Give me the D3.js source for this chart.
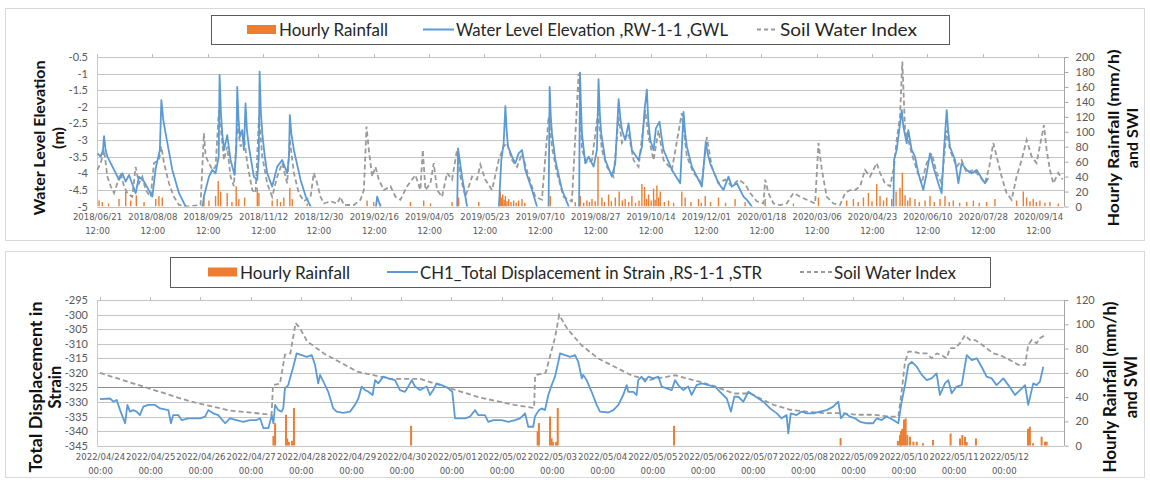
<!DOCTYPE html>
<html><head><meta charset="utf-8">
<script src="https://cdn.jsdelivr.net/npm/d3@7"></script>
<style>
body{margin:0;background:#fff}
text{font-family:Lato,"Open Sans",sans-serif}
</style>
</head><body>
<svg id="c" width="1150" height="480"></svg>
<script>
// ---------------- DATA: top chart (days since 2018/06/21 12:00) ----------------
const topStart = "2018/06/21 12:00";
const topTickLabels = ["2018/06/21","2018/08/08","2018/09/25","2018/11/12","2018/12/30","2019/02/16","2019/04/05","2019/05/23","2019/07/10","2019/08/27","2019/10/14","2019/12/01","2020/01/18","2020/03/06","2020/04/23","2020/06/10","2020/07/28","2020/09/14"];
const topTickTime = "12:00";
const topLeftTicks = [-5,-4.5,-4,-3.5,-3,-2.5,-2,-1.5,-1,-0.5];
const topRightTicks = [0,20,40,60,80,100,120,140,160,180,200];

const gwlSeries = [[0.5,-3.4],[3.2,-3.5],[5.2,-3.3],[6.1,-2.88],[7.5,-3.3],[9,-3.5],[14.8,-3.9],[19.1,-4.2],[22,-4.0],[24.9,-4.25],[27.8,-4.05],[33.5,-4.6],[36.4,-4.1],[40.8,-4.25],[48,-4.7],[50.9,-3.85],[54.5,-3.3],[55.8,-1.8],[57.5,-2.4],[59.5,-2.8],[65.3,-3.9],[71.1,-4.6],[76.9,-5.0],[78,-5.3],[90.5,-5.3],[92.7,-4.7],[97.1,-4.1],[100,-3.9],[102.8,-4.0],[105.5,-3.5],[106.3,-1.04],[107.5,-2.2],[108.6,-2.8],[110.1,-3.3],[112.9,-2.85],[115.8,-3.6],[119.3,-4.05],[120.8,-3.2],[121.6,-1.4],[122.8,-2.4],[123.9,-2.9],[125.9,-2.7],[127.4,-3.3],[128.8,-1.9],[130,-2.7],[131.7,-3.2],[136,-4.1],[138.9,-4.2],[140.3,-3.5],[141,-0.94],[142,-2.1],[143.3,-2.8],[145.5,-3.5],[147.6,-4.0],[151.9,-4.4],[156.3,-3.8],[160.6,-3.6],[164.9,-4.0],[166.5,-3.5],[167.2,-2.25],[168.5,-2.8],[170.7,-3.3],[176.5,-4.2],[181,-4.7],[185.2,-5.0],[186,-5.3],[241,-5.3],[242.9,-4.7],[245.8,-5.0],[246.5,-5.3],[312.2,-5.3],[313.1,-3.25],[316.5,-4.1],[320.9,-5.0],[321.5,-5.3],[348,-5.3],[350.6,-3.6],[352.6,-3.1],[354.1,-1.98],[355.2,-2.7],[356.4,-3.2],[359.9,-3.5],[362.7,-3.7],[365.6,-3.4],[368.5,-3.3],[371.4,-3.9],[377.2,-4.5],[381.5,-5.0],[382,-5.3],[391.5,-5.3],[392.5,-1.4],[393.5,-2.3],[394.5,-2.8],[397.4,-3.6],[403.2,-4.5],[409,-5.0],[409.5,-5.3],[418,-5.3],[418.8,-0.97],[419.7,-2.0],[420.5,-2.8],[423.4,-3.7],[426.3,-3.5],[430.6,-3.8],[433.5,-3.3],[434.9,-1.17],[436,-2.2],[437.2,-2.8],[440.7,-3.6],[446.5,-4.1],[449.4,-3.7],[452.3,-1.77],[453.7,-2.3],[455.2,-2.7],[458,-3.0],[460.9,-2.5],[463.8,-3.3],[469.6,-3.6],[472.5,-3.2],[474.8,-2.1],[476.8,-1.48],[478,-2.4],[479.7,-3.0],[482.6,-3.3],[484.6,-2.65],[487.8,-2.45],[489.5,-2.9],[491.3,-3.3],[498.5,-3.9],[505.7,-4.3],[508.6,-2.15],[510,-2.8],[511.5,-3.2],[515.8,-3.8],[524.5,-4.4],[527.9,-3.05],[529.5,-3.4],[531.7,-3.7],[538.9,-4.3],[543.2,-4.5],[547.6,-4.1],[550.5,-4.4],[554.8,-4.3],[560.6,-4.7],[563.5,-4.8],[567.8,-5.0],[568.5,-5.3],[690.5,-5.3],[691.1,-3.6],[693.4,-3.3],[694.9,-2.9],[697.8,-2.1],[699.2,-2.6],[702.1,-3.1],[703.5,-2.7],[706.4,-3.3],[709.3,-3.5],[712.2,-4.0],[716.5,-4.5],[719.4,-4.0],[722.3,-3.4],[725.2,-3.8],[729.5,-4.3],[732.4,-4.6],[734.4,-3.3],[736.8,-2.1],[738,-2.7],[739.6,-3.2],[744,-3.6],[746.9,-4.3],[749.7,-3.7],[754.1,-3.9],[758.4,-4.0],[762.8,-3.9],[767.1,-4.15],[770,-4.3],[772.9,-4.15]];

const swiTopSeries = [[0.3,49],[3.2,58],[6.1,76],[9,40],[11.9,27],[14.8,18],[17.6,31],[20.5,45],[23.4,27],[26.3,18],[30.6,13],[33.5,53],[36.4,31],[39.3,40],[42.2,22],[46.5,13],[49.4,58],[53.7,62],[55.8,80],[58.1,58],[62.4,31],[66.7,13],[71.1,2],[78.3,0],[89.8,2],[92.7,98],[94.2,67],[97.1,58],[100,49],[102.8,53],[105.7,129],[107.8,98],[110.1,62],[112.9,80],[115.8,40],[118.7,27],[121.6,111],[124.5,80],[127.4,93],[130.3,58],[134.6,22],[137.5,18],[140.4,120],[143.3,67],[147.6,31],[151.9,13],[156.3,40],[160.6,58],[164.9,31],[167.2,89],[170.7,45],[175,18],[179.4,7],[185.2,13],[188,45],[190.9,31],[193.8,13],[196.7,4],[202.5,7],[208.3,4],[211.1,13],[214,2],[222.7,2],[228.5,9],[231.4,22],[233.7,107],[235.7,76],[238.6,40],[241.5,53],[244.4,36],[248.7,22],[254.5,27],[258.8,13],[263.1,9],[268.9,27],[273.2,36],[276.1,42],[280.4,22],[282.5,76],[284.8,22],[289.1,31],[292,58],[294.9,22],[299.2,13],[303.5,45],[307.9,36],[312.2,76],[315.1,40],[319.4,13],[325.2,40],[329.5,36],[332.4,56],[336.7,36],[342.5,22],[348.3,62],[352.6,80],[355.5,85],[359.9,62],[364.2,53],[368.5,71],[374.3,40],[380.1,13],[385.8,9],[391.6,120],[394.5,80],[398.8,45],[404.6,13],[411.8,7],[417.6,178],[420.5,76],[424.8,58],[429.2,62],[434.4,125],[437.8,76],[442.2,53],[447.9,40],[452.3,120],[455.2,85],[460.9,98],[465.3,62],[469.6,53],[475.4,129],[478.3,93],[482.6,62],[486.9,102],[491.3,62],[498.5,49],[507.1,125],[511.5,67],[517.2,45],[524.5,31],[528.8,93],[533.1,53],[538.9,31],[544.7,36],[550.5,27],[556.2,36],[562,30],[566.4,18],[572.1,7],[577.9,4],[579.4,36],[582.2,18],[586.6,4],[592.4,2],[598.1,4],[603.9,18],[609.7,13],[615.5,9],[622.7,4],[625.6,85],[628.5,49],[632.8,13],[638.6,4],[644.3,2],[648.7,18],[653,22],[657.3,22],[661.7,27],[666,49],[670.3,40],[676.1,58],[679,45],[683.3,31],[687.7,27],[691.1,53],[693.4,89],[696.3,120],[698.3,194],[700.7,102],[703.5,89],[706.4,71],[710.8,49],[715.1,31],[719.4,58],[723.8,71],[728.1,45],[732.4,31],[736.8,102],[739.6,76],[745.4,53],[749.7,62],[754.1,45],[759.9,49],[765.6,40],[770,31],[773.7,53],[777.2,85],[780.1,67],[784.4,40],[788.7,18],[793.1,9],[797.4,40],[801.7,62],[806.1,89],[810.4,67],[814.7,58],[819.1,93],[821.1,109],[823.4,76],[826.3,49],[829.2,31],[833.5,45],[837.3,36]];

const rainTopSeries = [[1.8,8],[4.6,6],[10,4],[19.1,10],[24.9,20],[29.2,8],[34.1,15],[40.8,6],[50.9,10],[53.7,14],[56.6,12],[92.7,12],[97.1,8],[102.8,14],[105.1,34],[107.2,20],[112.9,18],[117,6],[120.7,27],[123,10],[128,12],[139,25],[140.4,18],[151.9,8],[156.3,10],[159.2,6],[162,12],[167.2,25],[169.3,10],[182.3,4],[234.2,8],[240,6],[245.8,4],[271.8,6],[283.3,8],[289.1,4],[307.9,6],[313.6,12],[331,6],[349.7,20],[350.8,12],[351.8,16],[353,9],[354.1,14],[355.5,7],[357,10],[359,6],[361.3,8],[363.5,5],[365.6,8],[368.5,10],[371,5],[393.1,14],[414.7,6],[419.1,14],[422,5],[424.8,8],[427,6],[429.2,10],[432,7],[434.4,67],[437.8,12],[440,6],[443.6,16],[446,7],[449.4,12],[452.8,20],[455.5,8],[458,10],[461,6],[463.8,14],[467,5],[470,8],[472.5,30],[474.8,26],[476.5,10],[478.3,16],[480.5,8],[482.6,24],[484,9],[485.5,28],[487,12],[488.4,20],[492,6],[495.6,8],[500,5],[507.1,20],[510,12],[515,6],[521.6,10],[524,5],[527.4,14],[532,6],[538.9,12],[545,5],[553.3,10],[562,6],[579.4,10],[603.9,4],[625.6,12],[650.1,8],[655.9,10],[660,6],[664.6,12],[668.9,18],[672,7],[676.1,30],[679,14],[682,8],[684.8,12],[689.1,10],[692.9,20],[696.3,25],[698.3,45],[700.7,15],[703,8],[705,12],[709.3,10],[713,6],[718,8],[722.3,14],[726,6],[731,10],[735.3,14],[739,6],[742.5,8],[748,5],[754.1,6],[759.9,8],[765,5],[771.4,6],[778.6,10],[797.4,8],[803.2,20],[806.1,12],[809,7],[811.8,10],[814.5,6],[817.6,8],[822,5],[826.3,6],[833.5,4]];

// ---------------- DATA: bottom chart (hours since 2022/04/24 00:00) ----------------
const botStart = "2022/04/24 00:00";
const botTickLabels = ["2022/04/24","2022/04/25","2022/04/26","2022/04/27","2022/04/28","2022/04/29","2022/04/30","2022/05/01","2022/05/02","2022/05/03","2022/05/04","2022/05/05","2022/05/06","2022/05/07","2022/05/08","2022/05/09","2022/05/10","2022/05/11","2022/05/12"];
const botTickTime = "00:00";
const botLeftTicks = [-345,-340,-335,-330,-325,-320,-315,-310,-305,-300,-295];
const botRightTicks = [0,20,40,60,80,100,120];

const strainSeries = [[0,-329],[4.8,-328.8],[6.4,-329.9],[8,-329.3],[9.6,-332.8],[12,-337.3],[13.1,-331],[14.3,-333.3],[15.9,-332.8],[17.5,-333.3],[19.1,-334.5],[20.7,-331.6],[23.1,-331],[26.3,-331],[28.7,-332.2],[32.7,-332.8],[33.9,-337.3],[35,-334.5],[37.4,-334.5],[39,-336.2],[42.2,-335.6],[44.6,-335.6],[47.8,-335.6],[50.2,-335],[51.8,-332.8],[54.2,-333.9],[56.5,-334.5],[59.8,-337.3],[62.1,-335.6],[65.3,-336.2],[68.5,-336.8],[71.7,-336.2],[74.9,-336.2],[76.5,-335.6],[78.1,-339],[80.5,-339],[82.1,-334.5],[82.9,-337.3],[83.7,-331],[85.2,-332.8],[86.8,-333.3],[87.6,-332.2],[88.4,-325.3],[90,-324.2],[90.8,-321.9],[92.4,-317.9],[94,-313.3],[96.4,-313.9],[98.8,-314.5],[101.2,-313.9],[102.8,-317.3],[104.3,-323.6],[105.2,-320.7],[107.6,-324.2],[109.1,-326.5],[111.5,-332.2],[113.1,-333.3],[116.3,-333.7],[119.5,-333.3],[121.9,-331],[123.5,-328.8],[125.1,-324.7],[126.7,-325.9],[128.3,-326.5],[130.3,-327.6],[131.5,-322.5],[133,-323.6],[135.4,-321.3],[137.8,-321.9],[141,-322.5],[143.4,-325.9],[145.8,-326.5],[147.4,-324.7],[149,-322.5],[150.6,-324.7],[153,-325.9],[154.5,-325.3],[156.2,-324.7],[157.7,-327.6],[159.3,-325.9],[160.9,-323.6],[163.3,-324.2],[166.5,-325.3],[168.4,-326.5],[169.7,-335.6],[171.3,-335.6],[174.5,-335.6],[176.9,-335],[179.3,-332.8],[180.8,-334.5],[184,-334.5],[185.6,-336.8],[188,-336.2],[192,-336.2],[195.2,-336.8],[198.4,-336.2],[200.8,-335.6],[203.2,-333.9],[204.7,-338.5],[207.1,-338.5],[207.9,-335],[209.8,-332.8],[211.1,-332.2],[212.7,-332.8],[214.3,-327.6],[215.9,-324.2],[217.5,-321.3],[219.1,-316.2],[219.9,-313.3],[222.3,-313.9],[224.7,-314.5],[227.1,-313.9],[228.6,-316.2],[230.3,-321.9],[231,-320.7],[232.6,-322.5],[235,-326.5],[237.4,-331],[239,-333.3],[243,-333.6],[245.4,-332.8],[247.8,-331],[250.1,-327.6],[251.8,-324.2],[252.5,-326.5],[254.9,-326.5],[256.5,-327.6],[257.3,-322.5],[258.9,-321.3],[260.5,-323],[262.1,-321.3],[264.5,-321.9],[266.9,-321.3],[268.5,-324.7],[270.9,-325.3],[273.3,-325.9],[274.9,-322.5],[276.4,-324.2],[278.8,-325.9],[281.2,-324.7],[282.8,-327.6],[285.2,-324.2],[287.6,-323.6],[290.8,-324.2],[294,-324.7],[296.4,-326.5],[299.6,-328.8],[301.6,-333.3],[303.2,-328.2],[305.1,-328.2],[307.5,-329.9],[308.3,-328.8],[309.9,-326.5],[312.3,-327.6],[314.7,-328.8],[317.1,-329.9],[320.3,-332.2],[323.5,-333.9],[325.8,-335.6],[328.2,-334.5],[329,-340.8],[330.2,-333.9],[333,-334.5],[335.4,-333.3],[337.8,-333.9],[341,-333.9],[344.2,-333.3],[347.4,-332.8],[350.5,-331.6],[352.9,-329.9],[354.2,-335.6],[356.1,-333.9],[358.5,-335],[360.9,-335.6],[363.3,-336.8],[366.5,-337.3],[369.6,-337.3],[371.3,-335.6],[373.6,-336.2],[376,-335],[379.2,-336.2],[381.6,-337.3],[383.2,-329.9],[384.8,-324.2],[386.4,-317.3],[388,-316.2],[390.4,-317.9],[392.8,-320.7],[395.2,-322.5],[397.5,-321.9],[399.9,-320.2],[401.5,-327.6],[403.9,-323.6],[405.5,-322.5],[407.1,-327],[409.5,-324.7],[411.9,-324.2],[414.3,-313.9],[416.7,-315.6],[419.1,-315],[421.4,-317.9],[423.8,-321.3],[426.2,-321.9],[428.6,-324.2],[431.8,-321.9],[434.2,-324.2],[437.4,-327.6],[439.8,-325.9],[442.2,-324.2],[443.7,-331],[446.1,-323.6],[447.7,-324.2],[449.3,-323],[450.9,-317.9]];

const swiBotSeries = [[0,60],[43,36.5],[62,29],[82,25.5],[82.7,50],[86,51],[88.4,75],[91,76],[93.5,101],[95.5,97],[99,86],[107,76],[123,61],[139,55],[153,55],[166.5,47.7],[182,39.5],[198,33.7],[207.5,31],[208,58],[213,60],[217.5,89],[219.5,107.7],[223.5,96],[230,83],[238,72],[246,65],[254,58],[262,54],[275,58],[286,53],[294,48.8],[303,43],[310.7,43],[315.5,39],[321.9,33.7],[330,29.6],[337.8,28],[345.6,26.9],[353.7,26.9],[361.7,25.5],[369.6,25.5],[377.6,24],[381.6,24],[383.2,44.6],[384.8,69],[386.4,77.5],[388.8,77.5],[392,76],[395.2,76],[397.5,72],[400,76],[402.3,74.6],[404.7,72],[406.3,80.3],[408.7,80.3],[411.1,84.4],[413.5,91],[415.9,87],[418.3,87],[420.6,84.4],[423.8,80.3],[427,76],[430.2,74.6],[433.4,72],[436.6,69],[439,66.6],[442.2,66.6],[443.7,83],[445.4,87],[447.7,84.4],[449.3,88.5],[451.7,91]];

const rainBotSeries = [[82.9,8],[83.7,18.6],[88.9,25.5],[89.5,6],[90.3,3],[91.8,4],[92.7,31],[148.7,16.4],[209.2,11.8],[209.8,18.6],[215.1,24],[215.9,6],[216.5,3],[218,3],[218.8,31],[274.4,16.4],[354,6.3],[381.4,4],[382.4,8.8],[382.9,12],[383.5,14],[384.3,21.4],[385.1,22.4],[385.9,8.8],[387.2,7.4],[388.8,3.3],[390.4,3.3],[393.4,2],[398.2,4.7],[406.6,10],[411.1,6],[412.2,8.8],[413.5,7.4],[414.3,3],[418.7,6],[443.6,14],[444.5,15.6],[446,2],[450.1,7.4],[451.7,3.3],[452.5,3.3]];

// ---------------- DRAWING ----------------
const parse = d3.timeParse("%Y/%m/%d %H:%M");
const svg = d3.select("#c");
const COL_BLUE = "#5b9bd5", COL_ORANGE = "#ed7d31", COL_GREY = "#9a9a9a";

// panel frames
svg.append("rect").attr("x",5.5).attr("y",8.5).attr("width",1139).attr("height",232)
  .attr("fill","#fff").attr("stroke","#d9d9d9");
svg.append("rect").attr("x",5.5).attr("y",251.5).attr("width",1139).attr("height",226)
  .attr("fill","#fff").attr("stroke","#d9d9d9");

function drawChart(cfg){
  const g = svg.append("g");
  const {x, yL, yR} = cfg;
  const [x0, x1] = x.range();
  const [yb, yt] = yL.range();
  const clipId = cfg.id + "clip";
  svg.append("defs").append("clipPath").attr("id", clipId)
    .append("rect").attr("x", x0).attr("y", yt - 2).attr("width", x1 - x0).attr("height", yb - yt + 2);

  // gridlines
  g.append("g").selectAll("line").data(cfg.leftTicks).join("line")
    .attr("x1", x0).attr("x2", x1).attr("y1", d => Math.round(yL(d)) + 0.5).attr("y2", d => Math.round(yL(d)) + 0.5)
    .attr("stroke", d => cfg.darkTick === d ? "#8c8c8c" : "#c4c4c4").attr("stroke-width", 1);

  // tick marks at top for dates
  const tickDates = cfg.tickLabels.map(l => parse(l + " " + cfg.tickTime));
  g.append("g").selectAll("line").data(tickDates).join("line")
    .attr("x1", d => Math.round(x(d)) + 0.5).attr("x2", d => Math.round(x(d)) + 0.5)
    .attr("y1", Math.round(yt) + 0.5).attr("y2", Math.round(yt) - 3)
    .attr("stroke", "#bdbdbd");

  // axis lines
  g.append("line").attr("x1", x0 + 0.5).attr("x2", x0 + 0.5).attr("y1", yt).attr("y2", yb)
    .attr("stroke", "#c6c6c6");
  g.append("line").attr("x1", x1 + 0.5).attr("x2", x1 + 0.5).attr("y1", yt).attr("y2", yb)
    .attr("stroke", "#a6a6a6");

  // left axis labels
  const aL = g.append("g").attr("transform", `translate(${x0},0)`)
    .call(d3.axisLeft(yL).tickValues(cfg.leftTicks).tickFormat(d => String(d)).tickSize(0).tickPadding(9));
  aL.select(".domain").remove();
  aL.selectAll("text").attr("fill", "#595959").style("font-size", "11px");

  // right axis
  const aR = g.append("g").attr("transform", `translate(${x1 + 0.5},0)`)
    .call(d3.axisRight(yR).tickValues(cfg.rightTicks).tickFormat(d => String(d)).tickSize(4).tickPadding(7));
  aR.select(".domain").remove();
  aR.selectAll("line").attr("stroke", "#a6a6a6");
  aR.selectAll("text").attr("fill", "#595959").style("font-size", "11px");

  // bottom axis with 2-line labels
  const aB = g.append("g").attr("transform", `translate(0,${yb})`)
    .call(d3.axisBottom(x).tickValues(tickDates).tickFormat("").tickSize(0));
  aB.select(".domain").remove();
  aB.selectAll(".tick").each(function(d, i){
    const t = d3.select(this).append("text").attr("fill", "#595959")
      .attr("text-anchor", "middle")
      .style("font-family", "'Liberation Sans Narrow','DejaVu Sans Condensed',sans-serif")
      .style("font-size", "9.5px");
    t.append("tspan").attr("x", 0).attr("y", cfg.lab1).text(cfg.tickLabels[i]);
    t.append("tspan").attr("x", 0).attr("y", cfg.lab2).text(cfg.tickTime);
  });

  const plot = g.append("g").attr("clip-path", `url(#${clipId})`);
  const toDate = cfg.toDate;

  // rainfall bars
  plot.append("g").selectAll("rect").data(cfg.rain).join("rect")
    .attr("x", d => x(toDate(d[0])) - cfg.barW / 2)
    .attr("width", cfg.barW)
    .attr("y", d => yR(d[1]))
    .attr("height", d => yR(0) - yR(d[1]))
    .attr("fill", COL_ORANGE);

  // SWI dashed
  plot.append("path").datum(cfg.swi)
    .attr("d", d3.line().x(d => x(toDate(d[0]))).y(d => yR(d[1])))
    .attr("fill", "none").attr("stroke", COL_GREY).attr("stroke-width", 1.8)
    .attr("stroke-dasharray", "5,3");

  // main line
  plot.append("path").datum(cfg.main)
    .attr("d", d3.line().x(d => x(toDate(d[0]))).y(d => yL(d[1])))
    .attr("fill", "none").attr("stroke", COL_BLUE).attr("stroke-width", 1.8)
    .attr("stroke-linejoin", "round");

  // titles
  const titles = [[cfg.leftTitle, cfg.leftTitleX, cfg.leftTitleLen], [cfg.rightTitle, cfg.rightTitleX, cfg.rightTitleLen]];
  titles.forEach(([texts, xs, lens]) => texts.forEach((t, i) => {
    const el = g.append("text").attr("transform", `translate(${xs[i]},${cfg.titleY}) rotate(-90)`)
      .attr("text-anchor", "middle").attr("dominant-baseline", "central")
      .style("font-weight", "bold").style("font-size", cfg.titleSize + "px").attr("fill", "#111").text(t);
    if (lens[i]) el.attr("textLength", lens[i]).attr("lengthAdjust", "spacingAndGlyphs");
  }));

  // legend
  const L = cfg.legend;
  const lg = g.append("g");
  lg.append("rect").attr("x", L.x + 0.5).attr("y", L.y + 0.5).attr("width", L.w).attr("height", L.h)
    .attr("fill", "#fff").attr("stroke", "#5a5a5a");
  const cy = L.y + L.h / 2;
  lg.append("rect").attr("x", L.items[0]).attr("y", cy - 4.5).attr("width", 29).attr("height", 9).attr("fill", COL_ORANGE);
  lg.append("line").attr("x1", L.items[1]).attr("x2", L.items[1] + 31).attr("y1", cy).attr("y2", cy)
    .attr("stroke", COL_BLUE).attr("stroke-width", 2);
  lg.append("line").attr("x1", L.items[2]).attr("x2", L.items[2] + L.dashW).attr("y1", cy).attr("y2", cy)
    .attr("stroke", COL_GREY).attr("stroke-width", 1.8).attr("stroke-dasharray", "4,3");
  L.texts.forEach((t, i) => {
    lg.append("text").attr("x", L.textX[i]).attr("y", cy + 0.5).attr("dominant-baseline", "central")
      .style("font-size", "16.5px").attr("fill", "#262626")
      .attr("textLength", L.textLen[i]).attr("lengthAdjust", "spacingAndGlyphs").text(t);
  });
}

// top chart
const tStart = parse(topStart);
const topX = d3.scaleTime()
  .domain([tStart, d3.timeHour.offset(tStart, Math.round(838.5 * 24))]).range([97, 1064]);
drawChart({
  id: "top",
  x: topX,
  yL: d3.scaleLinear().domain([-5, -0.5]).range([206.5, 57]),
  yR: d3.scaleLinear().domain([0, 200]).range([206.5, 57]),
  leftTicks: topLeftTicks, rightTicks: topRightTicks,
  tickLabels: topTickLabels, tickTime: topTickTime,
  lab1: 13, lab2: 27,
  toDate: d => d3.timeMinute.offset(tStart, Math.round(d * 1440)),
  main: gwlSeries, swi: swiTopSeries, rain: rainTopSeries, barW: 1.4,
  leftTitle: ["Water Level Elevation", "(m)"], leftTitleX: [38, 57], leftTitleLen: [155, 0],
  rightTitle: ["Hourly Rainfall (mm/h)", "and SWI"], rightTitleX: [1112, 1131], rightTitleLen: [177, 0],
  titleY: 138, titleSize: 16,
  legend: {x: 211, y: 15, w: 738, h: 29, items: [247, 423, 757], dashW: 20,
    texts: ["Hourly Rainfall", "Water Level Elevation ,RW-1-1 ,GWL", "Soil Water Index"],
    textX: [279, 456, 780], textLen: [109, 272, 137]}
});

// bottom chart
const bStart = parse(botStart);
const botX = d3.scaleTime()
  .domain([d3.timeMinute.offset(bStart, -86), d3.timeMinute.offset(bStart, Math.round(19.2 * 1440))]).range([97, 1064]);
drawChart({
  id: "bot",
  x: botX,
  yL: d3.scaleLinear().domain([-345, -295]).range([445.7, 300]),
  yR: d3.scaleLinear().domain([0, 120]).range([445.7, 300]),
  leftTicks: botLeftTicks, rightTicks: botRightTicks, darkTick: -325,
  tickLabels: botTickLabels, tickTime: botTickTime,
  lab1: 14, lab2: 28,
  toDate: h => d3.timeMinute.offset(bStart, Math.round(h * 60)),
  main: strainSeries, swi: swiBotSeries, rain: rainBotSeries, barW: 2,
  leftTitle: ["Total Displacement in", "Strain"], leftTitleX: [36, 55], leftTitleLen: [171, 0],
  rightTitle: ["Hourly Rainfall (mm/h)", "and SWI"], rightTitleX: [1110, 1131], rightTitleLen: [171, 0],
  titleY: 387, titleSize: 16.5,
  legend: {x: 170, y: 257, w: 820, h: 30, items: [208, 387, 800], dashW: 32,
    texts: ["Hourly Rainfall", "CH1_Total Displacement in Strain ,RS-1-1 ,STR", "Soil Water Index"],
    textX: [240, 420, 834], textLen: [110, 342, 122]}
});
</script>
</body></html>
